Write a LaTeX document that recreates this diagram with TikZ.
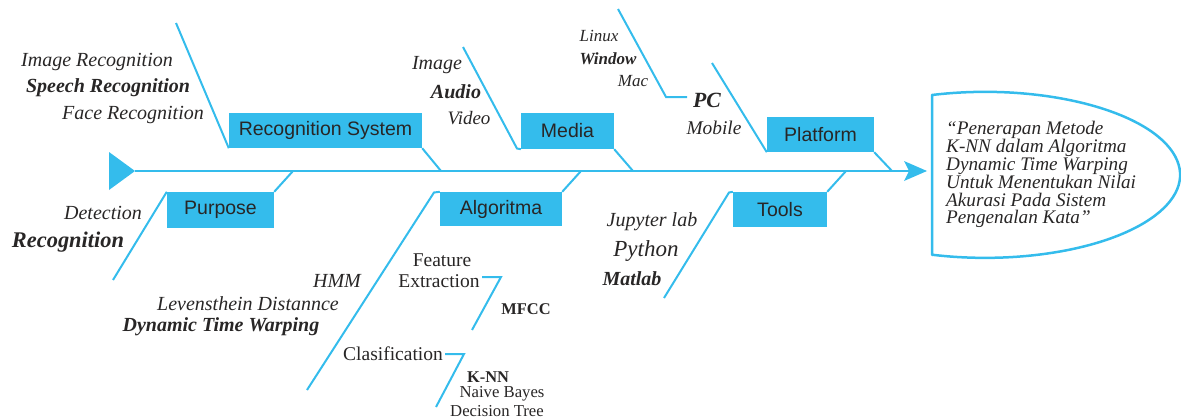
\documentclass[tikz,border=0pt]{standalone}
\usepackage{fontspec}
\setmainfont{Liberation Serif}
\newfontfamily\boxfont{Liberation Sans}
\definecolor{fishblue}{RGB}{52,188,236}
\definecolor{ink}{RGB}{40,38,38}
\tikzset{
  bone/.style={draw=fishblue, line width=2pt},
  catbox/.style={fill=fishblue, inner sep=0pt, font=\boxfont\fontsize{19.5}{20}\selectfont, text=ink},
  lab/.style={inner sep=0pt, text=ink, font=\itshape\fontsize{20}{22}\selectfont},
  blab/.style={lab, font=\bfseries\itshape\fontsize{20}{22}\selectfont},
  slab/.style={lab, font=\itshape\fontsize{17}{19}\selectfont},
  sblab/.style={lab, font=\bfseries\itshape\fontsize{17}{19}\selectfont},
  rlab/.style={lab, font=\upshape\fontsize{19.5}{21}\selectfont},
  rslab/.style={lab, font=\upshape\fontsize{16.7}{18}\selectfont},
  rsblab/.style={lab, font=\bfseries\upshape\fontsize{16.4}{18}\selectfont},
}
\begin{document}
\begin{tikzpicture}[x=1pt,y=-1pt]
\useasboundingbox (0,0) rectangle (1181,420);

% spine with tail and head
\coordinate (spineStart) at (135,171);
\coordinate (spineEnd) at (910,171);
\fill[fishblue] (109,152) -- (spineStart) -- (109,190) -- cycle;
\draw[bone] (spineStart) -- (spineEnd);
\fill[fishblue] (904,161) -- (927,171) -- (904,181) -- (909,171) -- cycle;

% category boxes
\node[catbox, minimum width=193pt, minimum height=35pt] (rs) at (325.5,130.5) {Recognition System};
\node[catbox, minimum width=93pt, minimum height=36pt] (md) at (567.5,131) {Media};
\node[catbox, minimum width=107pt, minimum height=35pt] (pl) at (820.5,134.5) {Platform};
\node[catbox, minimum width=107pt, minimum height=36pt] (pu) at (220.5,210) {Purpose};
\node[catbox, minimum width=122pt, minimum height=34pt] (al) at (501,209) {Algoritma};
\node[catbox, minimum width=94pt, minimum height=35pt] (to) at (780,209.5) {Tools};

% bone end points
\coordinate (rsTop) at (176,23);
\coordinate (rsSpine) at (441,171);
\coordinate (mdTop) at (463,47);
\coordinate (mdFoot) at (517,148.5);
\coordinate (mdSpine) at (633,171);
\coordinate (plTop) at (712,63);
\coordinate (plSpine) at (892,171);
\coordinate (pcTop) at (618,9);
\coordinate (pcKnee) at (666,97);
\coordinate (pcEnd) at (687,97);
\coordinate (puBot) at (113,280);
\coordinate (puSpine) at (293,171);
\coordinate (alBot) at (307,390);
\coordinate (alHead) at (434,192.5);
\coordinate (alSpine) at (581,171);
\coordinate (toBot) at (664,298);
\coordinate (toHead) at (729,192.5);
\coordinate (toSpine) at (846,171);
\coordinate (feA) at (482,277);
\coordinate (feB) at (501,277);
\coordinate (feC) at (472,330);
\coordinate (clA) at (445,354);
\coordinate (clB) at (464,354);
\coordinate (clC) at (436,407);

% upper bones
\draw[bone] (rsTop) -- (rs.south west);
\draw[bone] (rs.south east) -- (rsSpine);
\draw[bone] (mdTop) -- (mdFoot) -- (md.south west);
\draw[bone] (md.south east) -- (mdSpine);
\draw[bone] (plTop) -- (pl.south west);
\draw[bone] (pl.south east) -- (plSpine);
\draw[bone] (pcTop) -- (pcKnee) -- (pcEnd);

% lower bones
\draw[bone] (puBot) -- (pu.north west);
\draw[bone] (pu.north east) -- (puSpine);
\draw[bone] (alBot) -- (alHead) -- (al.north west);
\draw[bone] (al.north east) -- (alSpine);
\draw[bone] (toBot) -- (toHead) -- (to.north west);
\draw[bone] (to.north east) -- (toSpine);
\draw[bone] (feA) -- (feB) -- (feC);
\draw[bone] (clA) -- (clB) -- (clC);

% Recognition System causes
\node[lab] (imgrec) at (97,62) {Image Recognition};
\node[blab] (speech) at (108,88) {Speech Recognition};
\node[lab] (face) at (133,115) {Face Recognition};

% Media causes
\node[lab] (img) at (437,65) {Image};
\node[blab] (audio) at (456,92) {Audio};
\node[lab, font=\itshape\fontsize{19}{21}\selectfont] (video) at (469,118) {Video};

% Platform causes
\node[slab] (linux) at (599,36) {Linux};
\node[sblab] (window) at (608,59) {Window};
\node[slab] (mac) at (633,81) {Mac};
\node[blab, font=\bfseries\itshape\fontsize{21.7}{23}\selectfont] (pc) at (707,100) {PC};
\node[lab, font=\itshape\fontsize{19.4}{21}\selectfont] (mobile) at (714,128) {Mobile};

% Purpose causes
\node[lab] (detect) at (103,213) {Detection};
\node[blab, font=\bfseries\itshape\fontsize{22.4}{24}\selectfont] (recog) at (68,242) {Recognition};

% Algoritma causes
\node[lab] (hmm) at (337,281) {HMM};
\node[lab] (leven) at (248,304) {Levensthein Distannce};
\node[blab] (dtw) at (221,327) {Dynamic Time Warping};
\node[rlab] (feat) at (442,260) {Feature};
\node[rlab] (extr) at (439,281) {Extraction};
\node[rsblab] (mfcc) at (526,309) {MFCC};
\node[rlab] (clas) at (393,354) {Clasification};
\node[rsblab] (knn) at (488,377) {K-NN};
\node[rslab] (nb) at (502,394) {Naive Bayes};
\node[rslab] (dt) at (497,411) {Decision Tree};

% Tools causes
\node[lab] (jup) at (652,222) {Jupyter lab};
\node[lab, font=\itshape\fontsize{23}{25}\selectfont] (py) at (646,251) {Python};
\node[blab] (matlab) at (632,279) {Matlab};

% effect head
\draw[draw=fishblue, line width=2.5pt, line join=round]
  (932,255) -- (932,95)
  arc[start angle=-105.8, end angle=105.8, x radius=195, y radius=83] -- cycle;
\node[lab, anchor=north west, align=left, font=\itshape\fontsize{19.2}{17.4}\selectfont] (effect) at (946,121)
  {``Penerapan Metode\\K-NN dalam Algoritma\\Dynamic Time Warping\\Untuk Menentukan Nilai\\Akurasi Pada Sistem\\Pengenalan Kata''};
\end{tikzpicture}
\end{document}
